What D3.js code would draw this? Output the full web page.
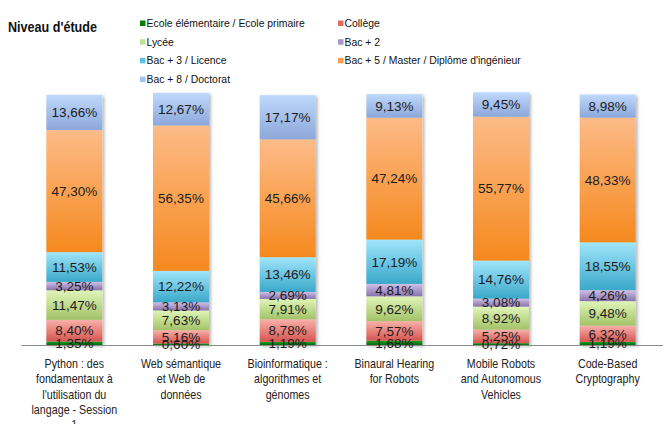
<!DOCTYPE html>
<html>
<head>
<meta charset="utf-8">
<script src="https://cdn.jsdelivr.net/npm/d3@7"></script>
<style>
  body { margin: 0; background: #fff; }
  text { font-family: Arial, "Liberation Sans", sans-serif; }
</style>
</head>
<body>
<div id="vis"></div>
<script>
// courses (x axis), each label split on lines like in the original
const categories = ["Python", "Web", "Bioinfo", "Binaural", "Mobile", "Crypto"]
const categoryLines = [
    ["Python : des", "fondamentaux à", "l'utilisation du", "langage - Session", "1"],
    ["Web sémantique", "et Web de", "données"],
    ["Bioinformatique :", "algorithmes et", "génomes"],
    ["Binaural Hearing", "for Robots"],
    ["Mobile Robots", "and Autonomous", "Vehicles"],
    ["Code-Based", "Cryptography"]
]

// one array per level, in %, bottom to top
const ecole = [1.35, 0.60, 1.19, 1.68, 0.72, 1.19]
const college = [8.40, 5.16, 8.78, 7.57, 5.25, 6.32]
const lycee = [11.47, 7.63, 7.91, 9.62, 8.92, 9.48]
const bac2 = [3.25, 3.13, 2.69, 4.81, 3.08, 4.26]
const bac3 = [11.53, 12.22, 13.46, 17.19, 14.76, 18.55]
const bac5 = [47.30, 56.35, 45.66, 47.24, 55.77, 48.33]
const bac8 = [13.66, 12.67, 17.17, 9.13, 9.45, 8.98]

const seriesNames = [
    "Ecole élémentaire / Ecole primaire", "Collège", "Lycée", "Bac + 2",
    "Bac + 3 / Licence", "Bac + 5 / Master / Diplôme d'ingénieur", "Bac + 8 / Doctorat"
]
const seriesValues = [ecole, college, lycee, bac2, bac3, bac5, bac8]

// top colour, bottom colour, legend colour
const colors = [
    ["#22a022", "#006a10", "#008000"],
    ["#f8b0aa", "#d65550", "#e26a66"],
    ["#e0f5b8", "#a3c267", "#c3e197"],
    ["#cfc0e8", "#8872ab", "#a898c8"],
    ["#a0e5fb", "#3ba8ca", "#5fc4e4"],
    ["#fdbb88", "#f5891e", "#f99b52"],
    ["#bfd8fc", "#8ca8da", "#a6c2f0"]
]

const width = 668
const height = 424

const svg = d3.select("#vis").append("svg")
    .attr("width", width)
    .attr("height", height)

const defs = svg.append("defs")
colors.forEach(function (c, i) {
    const g = defs.append("linearGradient")
        .attr("id", "grad" + i)
        .attr("x1", 0).attr("y1", 0).attr("x2", 0).attr("y2", 1)
    g.append("stop").attr("offset", "0%").attr("stop-color", c[0])
    g.append("stop").attr("offset", "100%").attr("stop-color", c[1])
})
defs.append("filter")
    .attr("id", "shadow")
    .attr("x", "-20%").attr("y", "-5%").attr("width", "150%").attr("height", "115%")
    .append("feDropShadow")
    .attr("dx", 2).attr("dy", 1.5)
    .attr("stdDeviation", 1.8)
    .attr("flood-color", "#000")
    .attr("flood-opacity", 0.28)

// build table for the stack
const table = categories.map(function (c, i) {
    const row = {name: c}
    seriesNames.forEach(function (s, j) { row[s] = seriesValues[j][i] })
    return row
})
const stacked = d3.stack().keys(seriesNames)(table)

const xAxis = d3.scaleBand()
    .domain(categories)
    .range([21, 661])
    .paddingInner(0.475)
    .paddingOuter(0.2375)

const yAxis = d3.scaleLinear()
    .domain([0, 100])
    .range([345, 87])

// bars
const bars = svg.append("g").attr("filter", "url(#shadow)")
bars.selectAll("g")
    .data(stacked)
    .enter()
    .append("g")
    .attr("fill", (d, i) => "url(#grad" + i + ")")
    .selectAll("rect")
    .data(d => d)
    .enter()
    .append("rect")
    .attr("x", d => xAxis(d.data.name))
    .attr("y", d => yAxis(d[1]))
    .attr("width", xAxis.bandwidth())
    .attr("height", d => yAxis(d[0]) - yAxis(d[1]))

// axis line
svg.append("line")
    .attr("x1", xAxis.range()[0]).attr("x2", xAxis.range()[1] + 2)
    .attr("y1", yAxis(0) + 0.5).attr("y2", yAxis(0) + 0.5)
    .attr("stroke", "#8c8c8c")
    .attr("stroke-width", 1)

// value labels
const fmt = v => v.toFixed(2).replace(".", ",") + "%"
const labels = svg.append("g")
stacked.forEach(function (layer) {
    labels.selectAll(null)
        .data(layer)
        .enter()
        .append("text")
        .attr("x", d => xAxis(d.data.name) + xAxis.bandwidth() / 2)
        .attr("y", d => (yAxis(d[0]) + yAxis(d[1])) / 2 + 4.8)
        .attr("text-anchor", "middle")
        .attr("font-size", "13.5px")
        .attr("fill", "#1c1c1c")
        .text(d => fmt(d[1] - d[0]))
})

// category labels
const catLabels = svg.append("g")
categories.forEach(function (c, i) {
    const t = catLabels.append("text")
        .attr("transform", "translate(" + (xAxis(c) + xAxis.bandwidth() / 2) + ",368) scale(0.85,1)")
        .attr("text-anchor", "middle")
        .attr("font-size", "12.6px")
        .attr("fill", "#222")
    categoryLines[i].forEach(function (line, k) {
        t.append("tspan").attr("x", 0).attr("y", k * 15.3).text(line)
    })
})

// title
svg.append("text")
    .attr("transform", "translate(8,32) scale(0.9,1)")
    .attr("font-size", "14px")
    .attr("font-weight", "bold")
    .attr("fill", "#111")
    .text("Niveau d'étude")

// legend, two columns
const legend = svg.append("g")
seriesNames.forEach(function (s, i) {
    const col = i < 6 ? i % 2 : 0
    const row = i < 6 ? Math.floor(i / 2) : 3
    const lx = col === 0 ? 140 : 338
    const ly = 27 + row * 18.7
    legend.append("rect")
        .attr("x", lx).attr("y", ly - 6.5)
        .attr("width", 5.5).attr("height", 5.5)
        .attr("fill", colors[i][2])
    legend.append("text")
        .attr("transform", "translate(" + (lx + 6.5) + "," + ly + ") scale(0.93,1)")
        .attr("font-size", "11.2px")
        .attr("fill", "#111")
        .text(s)
})
</script>
</body>
</html>
